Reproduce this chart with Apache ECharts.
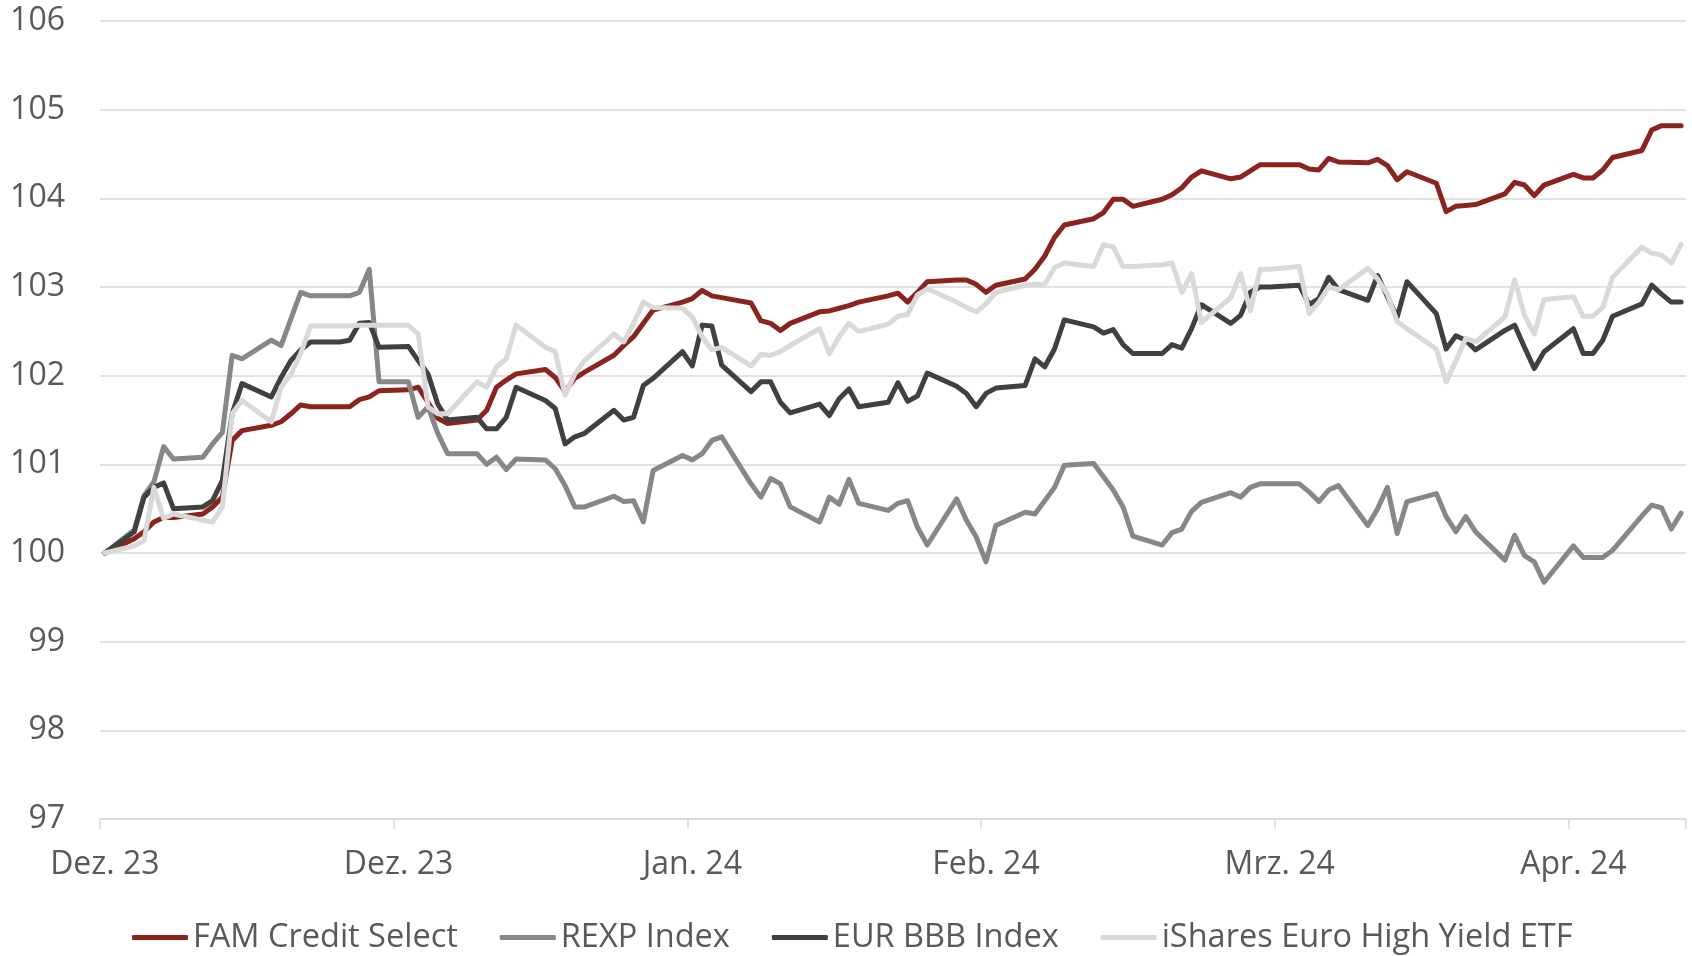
<!DOCTYPE html>
<html>
<head>
<meta charset="utf-8">
<script src="https://cdn.jsdelivr.net/npm/echarts@6/dist/echarts.min.js"></script>
<style>
  html, body { margin: 0; padding: 0; background: #fff; }
  #chart { width: 1692px; height: 956px; }
</style>
</head>
<body>
<div id="chart"></div>
<script>
// Achsenbeschriftung (alle 30 Kalendertage)
var tickLabels = ['Dez. 23', 'Dez. 23', 'Jan. 24', 'Feb. 24', 'Mrz. 24', 'Apr. 24'];
var seriesNames = ['FAM Credit Select', 'REXP Index', 'EUR BBB Index', 'iShares Euro High Yield ETF'];

// Werte je Handelstag (Mo-Fr) vom 01.12.2023 bis 10.05.2024, indexiert auf 100
var fam = [
  100.0,
  100.16, 100.24, 100.35, 100.4, 100.4,
  100.44, 100.52, 100.63, 101.27, 101.38,
  101.44, 101.48, 101.57, 101.67, 101.65,
  101.65, 101.65, 101.73, 101.76, 101.83,
  101.84, 101.87, 101.7, 101.52, 101.46,
  101.5, 101.61, 101.87, 101.95, 102.02,
  102.07, 101.98, 101.82, 101.97, 102.04,
  102.23, 102.34, 102.44, 102.59, 102.74,
  102.83, 102.87, 102.96, 102.9, 102.88,
  102.82, 102.62, 102.59, 102.51, 102.59,
  102.72, 102.73, 102.76, 102.79, 102.83,
  102.9, 102.93, 102.83, 102.94, 103.06,
  103.08, 103.08, 103.03, 102.94, 103.02,
  103.09, 103.2, 103.35, 103.56, 103.7,
  103.77, 103.84, 103.99, 103.99, 103.91,
  103.99, 104.04, 104.12, 104.24, 104.31,
  104.22, 104.24, 104.31, 104.38, 104.38,
  104.38, 104.33, 104.32, 104.45, 104.41,
  104.4, 104.44, 104.37, 104.21, 104.3,
  104.17, 103.85, 103.91, 103.92, 103.93,
  104.05, 104.18, 104.15, 104.03, 104.15,
  104.27, 104.23, 104.23, 104.32, 104.46,
  104.54, 104.77, 104.82, 104.82, 104.82
];
var rexp = [
  100.0,
  100.26, 100.65, 100.8, 101.2, 101.06,
  101.08, 101.23, 101.36, 102.23, 102.19,
  102.4, 102.34, 102.64, 102.94, 102.9,
  102.9, 102.9, 102.94, 103.2, 101.93,
  101.93, 101.53, 101.65, 101.35, 101.12,
  101.12, 101.0, 101.08, 100.94, 101.06,
  101.05, 100.95, 100.76, 100.52, 100.52,
  100.64, 100.58, 100.59, 100.35, 100.93,
  101.1, 101.05, 101.12, 101.27, 101.31,
  100.78, 100.63, 100.84, 100.78, 100.52,
  100.35, 100.63, 100.55, 100.83, 100.56,
  100.48, 100.56, 100.59, 100.29, 100.09,
  100.61, 100.37, 100.18, 99.9, 100.31,
  100.46, 100.44, 100.59, 100.74, 100.99,
  101.01, 100.86, 100.71, 100.52, 100.19,
  100.09, 100.23, 100.27, 100.47, 100.57,
  100.68, 100.63, 100.74, 100.78, 100.78,
  100.78, 100.69, 100.58, 100.71, 100.76,
  100.31, 100.5, 100.74, 100.22, 100.58,
  100.67, 100.41, 100.24, 100.41, 100.24,
  99.92, 100.2, 99.97, 99.9, 99.67,
  100.08, 99.95, 99.95, 99.95, 100.03,
  100.42, 100.54, 100.51, 100.27, 100.45
];
var bbb = [
  100.0,
  100.24, 100.63, 100.74, 100.79, 100.5,
  100.52, 100.59, 100.82, 101.57, 101.91,
  101.76, 101.98, 102.17, 102.29, 102.38,
  102.38, 102.4, 102.59, 102.6, 102.32,
  102.33, 102.17, 102.02, 101.68, 101.5,
  101.53, 101.4, 101.4, 101.53, 101.87,
  101.72, 101.63, 101.23, 101.31, 101.35,
  101.61, 101.5, 101.53, 101.89, 101.97,
  102.27, 102.11, 102.57, 102.56, 102.12,
  101.82, 101.93, 101.93, 101.7, 101.58,
  101.68, 101.55, 101.74, 101.85, 101.65,
  101.7, 101.92, 101.71, 101.77, 102.03,
  101.88, 101.8, 101.65, 101.8, 101.86,
  101.89, 102.19, 102.1, 102.3, 102.63,
  102.55, 102.48, 102.52, 102.35, 102.25,
  102.25, 102.35, 102.31, 102.53, 102.8,
  102.59, 102.68, 102.94, 103.0, 103.0,
  103.02, 102.8, 102.87, 103.11, 102.97,
  102.85, 103.13, 102.89, 102.66, 103.06,
  102.7, 102.3, 102.45, 102.4, 102.29,
  102.51, 102.57, 102.32, 102.08, 102.27,
  102.53, 102.25, 102.25, 102.4, 102.67,
  102.81, 103.02, 102.92, 102.83, 102.83
];
var ishares = [
  100.0,
  100.08, 100.14, 100.74, 100.39, 100.44,
  100.37, 100.35, 100.52, 101.57, 101.72,
  101.48, 101.87, 102.02, 102.25, 102.56,
  102.56, 102.56, 102.57, 102.57, 102.57,
  102.57, 102.47, 101.65, 101.57, 101.57,
  101.93, 101.87, 102.1, 102.19, 102.57,
  102.32, 102.27, 101.78, 102.02, 102.17,
  102.47, 102.38, 102.59, 102.83, 102.77,
  102.76, 102.66, 102.44, 102.29, 102.32,
  102.11, 102.24, 102.23, 102.27, 102.34,
  102.53, 102.25, 102.44, 102.59, 102.5,
  102.58, 102.67, 102.69, 102.91, 102.98,
  102.83, 102.77, 102.72, 102.81, 102.94,
  103.02, 103.03, 103.03, 103.22, 103.27,
  103.23, 103.48, 103.45, 103.23, 103.23,
  103.25, 103.27, 102.94, 103.15, 102.6,
  102.88, 103.15, 102.73, 103.2, 103.2,
  103.23, 102.7, 102.83, 103.0, 102.97,
  103.21, 103.09, 102.92, 102.61, 102.53,
  102.3, 101.93, 102.17, 102.42, 102.38,
  102.66, 103.08, 102.68, 102.47, 102.86,
  102.89, 102.67, 102.67, 102.77, 103.11,
  103.45, 103.38, 103.36, 103.27, 103.48
];

// Kalendertage fuer die Datumsachse, Handelstage sind die Werktage
var days = [];
var tradeIdx = [];
var cur = Date.UTC(2023, 11, 1);
var last = Date.UTC(2024, 4, 10);
while (cur <= last) {
  var wd = new Date(cur).getUTCDay();
  if (wd !== 0 && wd !== 6) tradeIdx.push(days.length);
  days.push(new Date(cur).toISOString().slice(0, 10));
  cur += 86400000;
}

function toPoints(vals) {
  return vals.map(function (v, i) { return [tradeIdx[i], v]; });
}

var colors = ['#8B231E', '#878787', '#404040', '#D9D9D9'];
var values = [fam, rexp, bbb, ishares];
var font = '"Open Sans", "Noto Sans", sans-serif';
var textColor = '#595959';

var chart = echarts.init(document.getElementById('chart'));

var option = {
  animation: false,
  backgroundColor: '#ffffff',
  color: colors,
  grid: {
    left: 100,
    right: 6,
    top: 21,
    bottom: 137,
    containLabel: false,
    outerBoundsMode: 'none'
  },
  legend: {
    data: seriesNames,
    top: 916,
    left: 127,
    icon: 'roundRect',
    itemWidth: 56,
    itemHeight: 5,
    itemGap: 42,
    textStyle: { fontSize: 32.5, color: textColor, fontFamily: font }
  },
  xAxis: {
    type: 'category',
    data: days,
    boundaryGap: true,
    axisLine: { lineStyle: { color: '#d9d9d9', width: 1.5 } },
    axisTick: {
      show: true,
      interval: 29,
      length: 10,
      lineStyle: { color: '#d9d9d9', width: 1.5 }
    },
    axisLabel: {
      interval: 29,
      margin: 30,
      fontSize: 32,
      color: textColor,
      fontFamily: font,
      formatter: function (val, idx) { return tickLabels[Math.round(idx / 30)]; }
    },
    splitLine: { show: false }
  },
  yAxis: {
    type: 'value',
    min: 97,
    max: 106,
    interval: 1,
    axisLine: { show: false },
    axisTick: { show: false },
    axisLabel: { margin: 35, fontSize: 32, color: textColor, fontFamily: font },
    splitLine: { lineStyle: { color: '#d9d9d9', width: 1.5 } }
  },
  series: seriesNames.map(function (name, k) {
    return {
      name: name,
      type: 'line',
      data: toPoints(values[k]),
      showSymbol: false,
      symbol: 'none',
      lineStyle: { width: 5, color: colors[k], join: 'round', cap: 'round' },
      itemStyle: { color: colors[k] }
    };
  })
};

chart.setOption(option);
</script>
</body>
</html>
